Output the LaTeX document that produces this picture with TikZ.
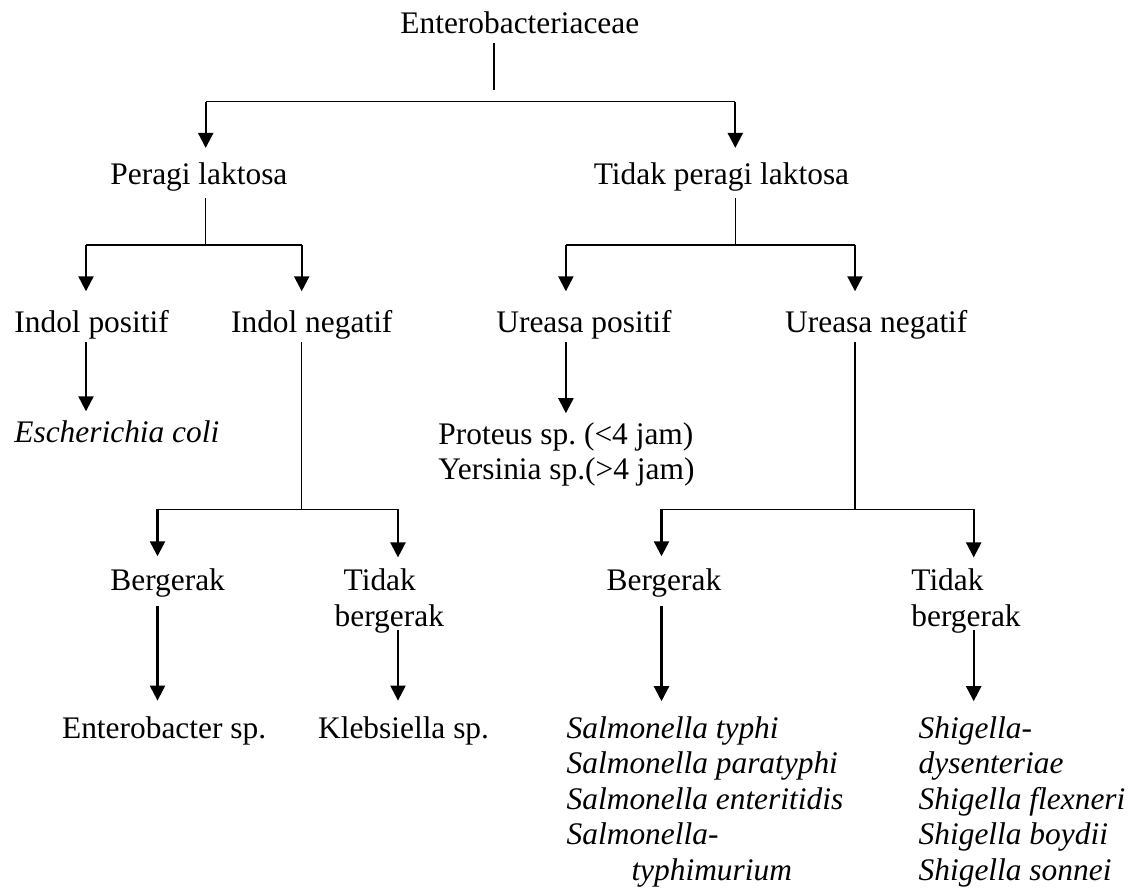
\documentclass[tikz,border=0pt]{standalone}
\usepackage{fontspec}
\setmainfont{Liberation Serif}
\usetikzlibrary{arrows.meta}
\frenchspacing

\begin{document}
\begin{tikzpicture}[x=0.5pt,y=-0.5pt,
  txt/.style={inner sep=0pt,anchor=base west,font=\fontsize{15.7pt}{17.9pt}\selectfont,text height=11pt,text depth=0pt},
  txtl/.style={inner sep=0pt,anchor=base west,font=\fontsize{15.7pt}{17.9pt}\selectfont,align=left,text depth=0pt},
  spc/.style={txt,font=\fontsize{15.7pt}{17.9pt}\selectfont\itshape},
  spcl/.style={txtl,font=\fontsize{15.7pt}{17.7pt}\selectfont\itshape},
  link/.style={line width=0.65pt},
  arw/.style={line width=1.15pt,-{Triangle[width=7.5pt,length=7.5pt]}}
]
\useasboundingbox (0,0) rectangle (1134,892);

\node[txt] (ent) at (400,34) {Enterobacteriaceae};
\node[txt] (pl) at (110,185) {Peragi laktosa};
\node[txt] (tpl) at (593.5,185) {Tidak peragi laktosa};
\node[txt] (ipos) at (14,332.7) {Indol positif};
\node[txt] (ineg) at (230.7,332.7) {Indol negatif};
\node[txt] (upos) at (496,332.7) {Ureasa positif};
\node[txt] (uneg) at (784.8,332.7) {Ureasa negatif};
\node[spc] (ecoli) at (14,442.5) {Escherichia coli};
\node[txtl] (prot) at (438,480) {Proteus sp. (<4 jam)\\Yersinia sp.(>4 jam)};
\node[txt] (berg1) at (110,590) {Bergerak};
\node[txtl] (tberg1) at (334.3,626.7) {\hspace*{4.5pt}Tidak\\bergerak};
\node[txt] (berg2) at (606.3,590) {Bergerak};
\node[txtl] (tberg2) at (911,626.7) {Tidak\\bergerak};
\node[txt] (entb) at (61.7,738) {Enterobacter sp.};
\node[txt] (kleb) at (317.7,738) {Klebsiella sp.};
\node[spcl] (salm) at (566.3,880) {Salmonella typhi\\Salmonella paratyphi\\Salmonella enteritidis\\Salmonella-\\\hspace*{32.4pt}typhimurium};
\node[spcl] (shig) at (918.3,880) {Shigella-\\dysenteriae\\Shigella flexneri\\Shigella boydii\\Shigella sonnei};

\coordinate (top) at (494,101.7);
\coordinate (topL) at (205.7,101.7);
\coordinate (topR) at (735.3,101.7);
\coordinate (plL) at (86,245);
\coordinate (plM) at (205.7,245);
\coordinate (plR) at (301.7,245);
\coordinate (tplL) at (565.9,245);
\coordinate (tplM) at (735.3,245);
\coordinate (tplR) at (855,245);
\coordinate (inL) at (157.5,509.3);
\coordinate (inM) at (301.7,509.3);
\coordinate (inR) at (398,509.3);
\coordinate (unL) at (661.5,509.3);
\coordinate (unM) at (855,509.3);
\coordinate (unR) at (973.7,509.3);

\draw[link,shorten <=4.35pt,shorten >=5.85pt] (ent.south -| top) -- (top);
\draw[link] (topL) -- (topR);
\draw[arw,shorten >=7.35pt] (topL) -- (topL |- pl.north);
\draw[arw,shorten >=7.35pt] (topR) -- (topR |- tpl.north);

\draw[link,shorten <=6.35pt] (pl.south -| plM) -- (plM);
\draw[link] (plL) -- (plR);
\draw[arw,shorten >=9.5pt] (plL) -- (plL |- ipos.north);
\draw[arw,shorten >=9.5pt] (plR) -- (plR |- ineg.north);

\draw[link,shorten <=6.35pt] (tpl.south -| tplM) -- (tplM);
\draw[link] (tplL) -- (tplR);
\draw[arw,shorten >=9.5pt] (tplL) -- (tplL |- upos.north);
\draw[arw,shorten >=9.5pt] (tplR) -- (tplR |- uneg.north);

\draw[arw,shorten <=4.65pt,shorten >=4.4pt] (ipos.south -| plL) -- (plL |- ecoli.north);
\draw[arw,shorten <=4.65pt,shorten >=4.4pt] (upos.south -| tplL) -- (tplL |- prot.north);

\draw[link,shorten <=4.65pt] (ineg.south -| inM) -- (inM);
\draw[link] (inL) -- (inR);
\draw[arw,shorten >=5.65pt] (inL) -- (inL |- berg1.north);
\draw[arw,shorten >=5.65pt] (inR) -- (inR |- tberg1.north);

\draw[link,shorten <=4.65pt] (uneg.south -| unM) -- (unM);
\draw[link] (unL) -- (unR);
\draw[arw,shorten >=5.65pt] (unL) -- (unL |- berg2.north);
\draw[arw,shorten >=5.65pt] (unR) -- (unR |- tberg2.north);

\draw[arw,shorten <=8pt,shorten >=7.5pt] (berg1.south -| inL) -- (inL |- entb.north);
\draw[arw,shorten <=1.65pt,shorten >=7.5pt] (tberg1.south -| inR) -- (inR |- kleb.north);
\draw[arw,shorten <=8pt,shorten >=7.5pt] (berg2.south -| unL) -- (unL |- salm.north);
\draw[arw,shorten <=1.65pt,shorten >=7.5pt] (tberg2.south -| unR) -- (unR |- shig.north);
\end{tikzpicture}
\end{document}
